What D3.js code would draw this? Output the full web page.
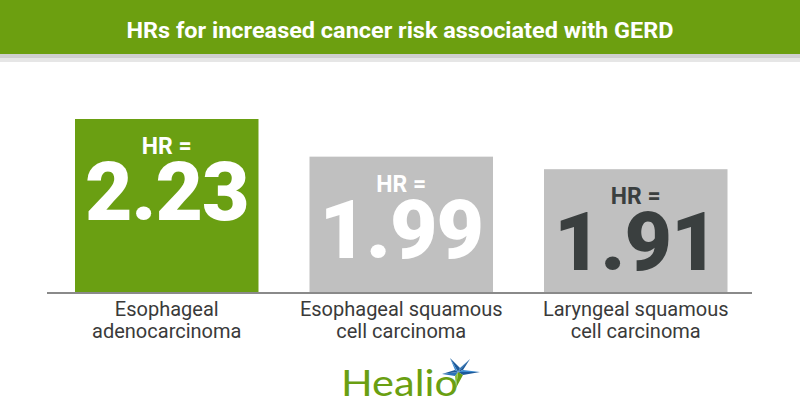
<!DOCTYPE html>
<html>
<head>
<meta charset="utf-8">
<script src="https://cdn.jsdelivr.net/npm/d3@7"></script>
<style>
  html, body { margin: 0; padding: 0; background: #fff; }
  svg { display: block; }
</style>
</head>
<body>
<svg id="chart" width="800" height="420"></svg>
<script>
const title = "HRs for increased cancer risk associated with GERD";
const categories = ["Esophageal adenocarcinoma", "Esophageal squamous cell carcinoma", "Laryngeal squamous cell carcinoma"];
const labelLines = [["Esophageal", "adenocarcinoma"], ["Esophageal squamous", "cell carcinoma"], ["Laryngeal squamous", "cell carcinoma"]];
const hrValues = [2.23, 1.99, 1.91];
const hrLabels = ["2.23", "1.99", "1.91"];

const barColors = ["#6a9f12", "#c0c0c0", "#c0c0c0"];
const textColors = ["#ffffff", "#ffffff", "#3a3f3f"];

const svg = d3.select("#chart");
const W = 800, H = 420;
const baseY = 293;

// Title bar
svg.append("rect").attr("x", 0).attr("y", 0).attr("width", W).attr("height", 54).attr("fill", "#6c9f10");
svg.append("rect").attr("x", 0).attr("y", 54).attr("width", W).attr("height", 4).attr("fill", "#cfcfcf");
svg.append("rect").attr("x", 0).attr("y", 58).attr("width", W).attr("height", 4).attr("fill", "#e6e6e6");
svg.append("text").attr("x", 400).attr("y", 38).attr("text-anchor", "middle")
  .attr("font-family", "Roboto, 'Open Sans', sans-serif").attr("font-weight", 700)
  .attr("font-size", 22).attr("fill", "#fff")
  .attr("textLength", 547).attr("lengthAdjust", "spacingAndGlyphs")
  .text(title);

const x = d3.scaleBand().domain(categories).range([75, 727.5]).paddingInner(0.2175).paddingOuter(0);
const y = d3.scaleLinear().domain([1.1207, 2.23]).range([baseY, 119]);

const g = svg.append("g");
g.selectAll("rect.bar").data(categories).join("rect")
  .attr("class", "bar")
  .attr("x", d => x(d))
  .attr("y", (d, i) => y(hrValues[i]))
  .attr("width", x.bandwidth())
  .attr("height", (d, i) => baseY - y(hrValues[i]))
  .attr("fill", (d, i) => barColors[i]);

// baseline
svg.append("line").attr("x1", 47).attr("x2", 752).attr("y1", baseY).attr("y2", baseY)
  .attr("stroke", "#8a8a8a").attr("stroke-width", 2);

// HR = value labels (one text element, two lines)
const vt = g.selectAll("text.val").data(categories).join("text")
  .attr("class", "val")
  .attr("text-anchor", "middle")
  .attr("font-family", "Roboto, sans-serif")
  .attr("fill", (d, i) => textColors[i]);
vt.each(function(d, i) {
  const t = d3.select(this);
  const cxp = x(d) + x.bandwidth() / 2;
  const top = y(hrValues[i]);
  t.append("tspan").attr("x", cxp).attr("y", top + 35)
    .attr("font-weight", 700).attr("font-size", 23).text("HR =");
  t.append("tspan").attr("x", cxp).attr("y", top + 101)
    .attr("font-weight", 900).attr("font-size", 82).attr("letter-spacing", -1)
    .text(hrLabels[i]);
});

// category labels
const lab = g.selectAll("text.cat").data(categories).join("text")
  .attr("class", "cat")
  .attr("x", d => x(d) + x.bandwidth() / 2)
  .attr("y", 316)
  .attr("text-anchor", "middle")
  .attr("font-family", "Roboto, sans-serif").attr("font-weight", 400)
  .attr("font-size", 20)
  .attr("fill", "#3a3a3a");
lab.each(function(d, i) {
  const t = d3.select(this);
  labelLines[i].forEach((ln, j) => {
    t.append("tspan").attr("x", x(d) + x.bandwidth() / 2).attr("dy", j === 0 ? 0 : 22).text(ln);
  });
});

// Healio logo
const logo = svg.append("g");
logo.append("text").attr("x", 341).attr("y", 396)
  .attr("font-family", "Lato, 'Open Sans', sans-serif").attr("font-weight", 400)
  .attr("font-size", 36).attr("fill", "#6a9f12")
  .attr("textLength", 117).attr("lengthAdjust", "spacingAndGlyphs")
  .text("Healio");
const cx = 458, cy = 372;
const star = logo.append("g").attr("transform", `translate(${cx},${cy})`);
star.append("path").attr("d", "M0,0 L-8,-14 L2,-4 Z").attr("fill", "#1d5a9a");
star.append("path").attr("d", "M0,0 L2,-4 L12,-13 Z").attr("fill", "#2a74b8");
star.append("path").attr("d", "M0,0 L12,-13 L5,-2 Z").attr("fill", "#1d5a9a");
star.append("path").attr("d", "M0,0 L5,-2 L22,0 Z").attr("fill", "#3a8ad0");
star.append("path").attr("d", "M0,0 L22,0 L5,3 Z").attr("fill", "#1d5a9a");
star.append("path").attr("d", "M0,0 L5,3 L-2,16 Z").attr("fill", "#6a9f12");
star.append("path").attr("d", "M0,0 L-2,16 L-3,4 Z").attr("fill", "#8cbf3a");
star.append("path").attr("d", "M0,0 L-3,4 L-16,2 Z").attr("fill", "#2a74b8");
star.append("path").attr("d", "M0,0 L-16,2 L-3,-2 Z").attr("fill", "#1d5a9a");
star.append("path").attr("d", "M0,0 L-3,-2 L-8,-14 Z").attr("fill", "#3a8ad0");
</script>
</body>
</html>
